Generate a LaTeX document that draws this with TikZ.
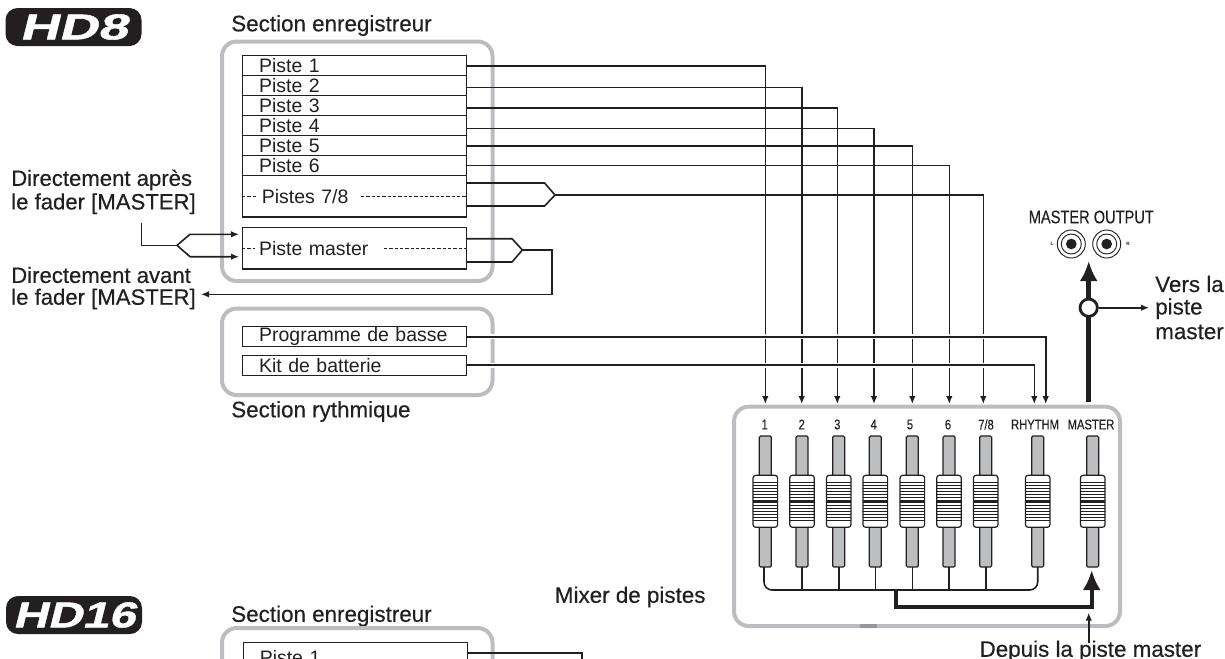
\documentclass[tikz,border=0pt]{standalone}
\usepackage{fontspec}
\setmainfont{Liberation Sans}
\newfontfamily\labfont[FakeBold=0.35]{Liberation Sans}
\newfontfamily\badgefont[BoldFeatures={FakeSlant=0.25,FakeStretch=1.5,FakeBold=1.2}]{Liberation Sans}
\newfontfamily\badgefontb[BoldFeatures={FakeSlant=0.25,FakeStretch=1.33,FakeBold=1.2}]{Liberation Sans}
\newfontfamily\narrowfont[FakeStretch=0.8,FakeBold=0.2]{Liberation Sans}
\usetikzlibrary{arrows.meta,calc,positioning}
\definecolor{framegrey}{RGB}{187,189,192}
\definecolor{trackgrey}{RGB}{188,190,192}
\definecolor{inkblack}{RGB}{35,31,32}
\tikzset{
  frame/.style={draw=framegrey, line width=3pt, rounded corners=11pt},
  track/.style={draw=inkblack, line width=0.9pt, fill=white, minimum width=168pt,
                inner xsep=12.5pt, inner ysep=0pt, text width=143pt, align=left,
                font=\fontsize{14.6}{15}\selectfont, text=inkblack},
  sectionlab/.style={anchor=west, inner sep=0pt, text=inkblack,
                     font=\labfont\fontsize{16.8}{18}\selectfont},
  sidelab/.style={anchor=west, inner sep=0pt, text=inkblack, align=left,
                  font=\labfont\fontsize{16.6}{18}\selectfont},
  channel/.style={inner sep=0pt, text=inkblack,
                  font=\narrowfont\fontsize{10.5}{12}\selectfont},
  badge/.style={fill=inkblack, text=white, rounded corners=9pt, inner sep=0pt,
                minimum width=102pt, minimum height=28.5pt,
                font=\badgefont\bfseries\fontsize{27}{27}\selectfont},
  conn/.style={draw=inkblack, line width=1.2pt},
  gapconn/.style={conn, preaction={draw=white, line width=4pt, -}},
  flow/.style={-{Latex[length=6pt,width=5pt]}},
  bigflow/.style={draw=inkblack, line width=3.2pt, -{Latex[length=15pt,width=13.5pt]}},
  dashline/.style={draw=inkblack, line width=0.6pt, dash pattern=on 2.6pt off 1.4pt},
  rail/.style={draw=inkblack, line width=0.9pt, fill=trackgrey, rounded corners=1pt},
  knob/.style={draw=inkblack, line width=0.9pt, fill=white, rounded corners=2pt},
  rib/.style={draw=inkblack, line width=0.55pt},
}
\begin{document}
\begin{tikzpicture}[x=0.75pt,y=-0.75pt]
  \path[use as bounding box] (0,0) rectangle (1225,658);

  % Model badges.
  \node[badge] (hd8) at (73.5,27) {HD8};
  \node[badge, font=\badgefontb\bfseries\fontsize{27}{27}\selectfont] (hd16) at (74,615) {HD16};

  % Recorder section.
  \node[sectionlab] (reclab) at (231,25.5) {Section enregistreur};
  \draw[frame] (222,41.5) rectangle (492.5,281);
  \node[track, minimum height=15pt] (piste1) at (354.5,65.6) {Piste 1};
  \node[track, minimum height=15pt] (piste2) at (354.5,85.7) {Piste 2};
  \node[track, minimum height=15pt] (piste3) at (354.5,105.7) {Piste 3};
  \node[track, minimum height=15pt] (piste4) at (354.5,125.7) {Piste 4};
  \node[track, minimum height=15pt] (piste5) at (354.5,145.7) {Piste 5};
  \node[track, minimum height=15pt] (piste6) at (354.5,165.5) {Piste 6};
  \node[track, minimum height=31.2pt] (piste78) at (354.5,196.2) {\hspace*{2pt}Pistes 7/8};
  \node[track, minimum height=31.2pt] (pistem) at (354.5,248.2) {Piste master};

  \draw[dashline] (piste78.west) -- +(14,0);
  \draw[dashline] ($(piste78.west)+(119,0)$) -- (piste78.east);
  \draw[dashline] (pistem.west) -- +(13,0);
  \draw[dashline] ($(pistem.west)+(142,0)$) -- (pistem.east);

  % Rhythm section.
  \draw[frame] (222,308.5) rectangle (492.5,395);
  \node[track, minimum height=15pt] (basse) at (354.5,336.7) {Programme de basse};
  \node[track, minimum height=15pt] (kit) at (354.5,365.2) {Kit de batterie};
  \node[sectionlab] (rytlab) at (231,411.5) {Section rythmique};

  % Mixer frame and faders.
  \draw[frame] (734,406.7) rectangle (1120,626);
  \fill[framegrey!80!black] (860,624) rectangle (877,628);
  \node[sectionlab] (mixlab) at (554.6,597) {Mixer de pistes};

  \foreach \name/\xc/\lab/\lx in {f1/765.3/1/764.7, f2/802/2/801.7, f3/838.7/3/837.3,
      f4/875.3/4/873.7, f5/912.3/5/910, f6/949/6/948, f78/985.7/7\slash 8/986,
      frh/1037.7/RHYTHM/1035, fma/1092.7/MASTER/1091} {
    \node[channel] (lab\name) at (\lx,424.5) {\lab};
    \draw[rail] (\xc-6,436) rectangle (\xc+6,567);
    \draw[knob] (\xc-12.3,475.3) rectangle (\xc+12.3,527.3);
    \foreach \ya in {482,485,488,491,494,497,505,508,511,514,517,520}
      \draw[rib] (\xc-12.3,\ya) -- (\xc+12.3,\ya);
    \fill[inkblack] (\xc-12.3,499.5) rectangle (\xc+12.3,503);
    \coordinate (\name) at (\xc,567);
  }

  % Mix bus under the faders.
  \coordinate (busl) at (764,590);
  \coordinate (busr) at (1037.7,590);
  \draw[conn, rounded corners=6pt] (764,567) -- (busl) -- (busr) -- (frh);
  \foreach \name in {f2,f3,f4,f5,f6,f78}
    \draw[conn] (\name) -- (\name |- busl);

  % Master channel feeds.
  \coordinate (busm) at (896.3,590);
  \coordinate (mastin) at (1091.7,570);
  \draw[bigflow] (busm) -- (896.3,607.3) -| (mastin);
  \node[sectionlab, anchor=center] (depuis) at (1090.4,651) {Depuis la piste master};
  \draw[conn, flow] (1088.7,642.7) -- (1088.7,612.7);

  % Inputs to the faders.
  \foreach \name/\xc in {a/765.3,b/801.7,c/837.3,d/874,e/912.3,g/949.3,h/983.3,r/1034.3,s/1045.7}
    \coordinate (in\name) at (\xc,404);

  \draw[conn, flow] (piste6.east) -| (ing);
  \draw[conn, flow] ($(piste5.east)+(0,0.3)$) -| (ine);
  \draw[conn, flow] ($(piste4.east)+(0,2.6)$) -| (ind);
  \draw[conn, flow] ($(piste3.east)+(0,2)$) -| (inc);
  \draw[conn, flow] ($(piste2.east)+(0,1.8)$) -| (inb);
  \draw[conn, flow] ($(piste1.east)+(0,0.4)$) -| (ina);

  % Stereo buses.
  \coordinate (tip78) at (555,195);
  \draw[conn] ($(piste78.east)+(0,-13.2)$) -- (544.6,183) -- (tip78)
    -- (544.6,206) -- ($(piste78.east)+(0,9.8)$);
  \draw[conn, flow] (tip78) -| (inh);

  \coordinate (tipm) at (522.4,250);
  \coordinate (avant) at (201,294.3);
  \draw[conn] ($(pistem.east)+(0,-9.5)$) -- (512,238.7) -- (tipm)
    -- (512,262) -- ($(pistem.east)+(0,13.8)$);
  \draw[conn, flow] (tipm) -- (552,250) |- (avant);

  \draw[gapconn, flow] (basse.east) -| (ins);
  \draw[gapconn, flow] (kit.east) -| (inr);

  % Input from the master fader.
  \coordinate (splitin) at (177,245.3);
  \draw[conn] (141.6,222.7) |- (splitin);
  \draw[conn, flow] (splitin) -- (190,234.3) -- (239,234.3);
  \draw[conn, flow] (splitin) -- (190,256.7) -- (239,256.7);

  % Left labels.
  \node[sidelab] (apres1) at (11,180) {Directement après};
  \node[sidelab] (apres2) at (11,203.7) {le fader [MASTER]};
  \node[sidelab] (avant1) at (11,275) {Directement avant};
  \node[sidelab] (avant2) at (11,299) {le fader [MASTER]};

  % Master output.
  \node[channel, font=\narrowfont\fontsize{13.7}{14}\selectfont] (mastout) at (1091.3,217) {MASTER OUTPUT};
  \foreach \name/\xc in {jackl/1071.3, jackr/1106.7} {
    \node[draw=inkblack, line width=0.7pt, circle, minimum size=21pt, inner sep=0pt] (\name) at (\xc,244) {};
    \draw[inkblack, line width=0.7pt] (\name) circle (7.5pt);
    \fill[inkblack] (\name) circle (4pt);
  }
  \node[channel, font=\fontsize{3.5}{4}\selectfont\bfseries] (labl) at (1052,244) {L};
  \node[channel, font=\fontsize{3.5}{4}\selectfont\bfseries] (labr) at (1128,244) {R};

  \coordinate (mastfoot) at (1088.7,402);
  \coordinate (masthead) at (1088.7,261);
  \draw[bigflow, line width=3.4pt] (mastfoot) -- (masthead);
  \node[circle, draw=inkblack, line width=2.1pt, fill=white, minimum size=13pt, inner sep=0pt] (tap) at (1088.7,307.7) {};
  \node[sidelab, font=\labfont\fontsize{16.8}{18}\selectfont] (vers) at (1155,284) {Vers la};
  \node[sidelab, font=\labfont\fontsize{16.8}{18}\selectfont] (vers2) at (1155,308.7) {piste};
  \node[sidelab, font=\labfont\fontsize{16.8}{18}\selectfont] (vers3) at (1155,332) {master};
  \coordinate (tapend) at (1149,307.7);
  \draw[conn, flow] (tap) -- (tapend);

  % Second model, cut by the page edge.
  \node[sectionlab] (reclabb) at (231,616) {Section enregistreur};
  \draw[frame] (222,680) -- (222,628) -- (492.5,628) -- (492.5,680);
  \node[track, anchor=north west, minimum height=22pt] (pisteb1) at (242.5,642) {Piste 1};
  \draw[conn] (pisteb1.east |- 0,653) -- (581.7,653) -- (581.7,680);
\end{tikzpicture}
\end{document}
